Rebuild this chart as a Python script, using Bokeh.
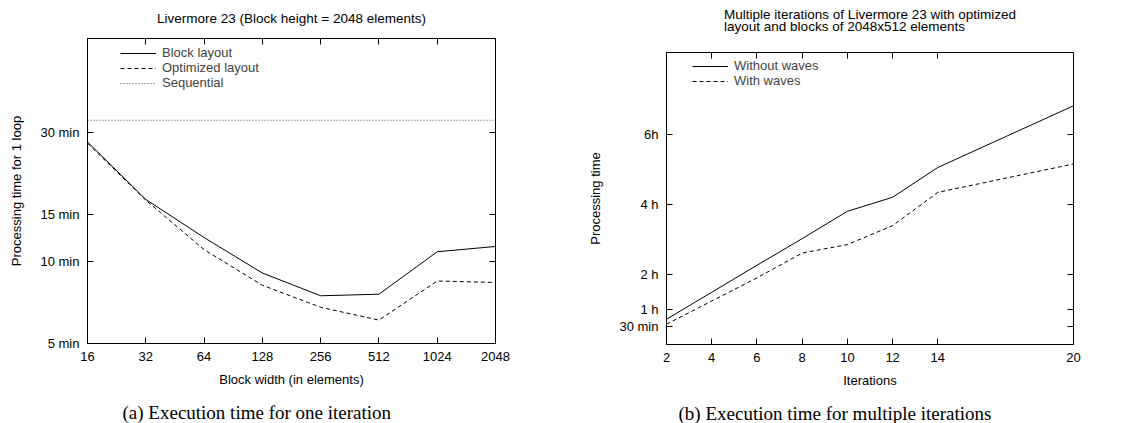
from jinja2 import Template
from bokeh.plotting import figure
from bokeh.models import (FixedTicker, LogAxis, LinearAxis, Title, Legend,
                          Range1d, CustomJSTickFormatter)
from bokeh.embed import file_html
from bokeh.resources import INLINE

# ---------------- data: panel (a) ----------------
block_widths = [16, 32, 64, 128, 256, 512, 1024, 2048]
block_layout_min = [27.7, 17.0, 12.3, 9.1, 7.5, 7.6, 10.9, 11.4]
optimized_layout_min = [27.4, 16.9, 11.1, 8.2, 6.8, 6.1, 8.5, 8.4]
sequential_min = 33.3
left_x_ticks = [16, 32, 64, 128, 256, 512, 1024, 2048]
left_x_labels = ["16", "32", "64", "128", "256", "512", "1024", "2048"]
left_y_ticks = [5, 10, 15, 30]
left_y_labels = ["5 min", "10 min", "15 min", "30 min"]

# ---------------- data: panel (b) ----------------
iterations = [2, 4, 6, 8, 10, 12, 14, 20]
without_waves_h = [0.72, 1.49, 2.26, 3.02, 3.80, 4.20, 5.05, 6.81]
with_waves_h = [0.58, 1.24, 1.90, 2.61, 2.85, 3.39, 4.34, 5.15]
right_x_ticks = [2, 4, 6, 8, 10, 12, 14, 20]
right_y_ticks = [0.5, 1, 2, 4, 6]
right_y_labels = ["30 min", "1 h", "2 h", "4 h", "6h"]

FONT = "Liberation Sans"
SERIF = "Liberation Serif"
FS = "13px"
TFS = "13.5px"


def style_axis(ax, ticks, labels=None, blank=False, label_standoff=5, spacer=0,
               pad_size=None):
    ax.ticker = FixedTicker(ticks=ticks, minor_ticks=[])
    ax.major_tick_in = 6
    ax.major_tick_out = 0
    ax.minor_tick_in = 0
    ax.minor_tick_out = 0
    ax.major_tick_line_color = "black"
    ax.axis_line_color = "black"
    ax.major_label_text_font = FONT
    ax.major_label_text_font_size = FS
    ax.major_label_text_color = "black"
    ax.major_label_standoff = 8
    ax.axis_label_text_font = FONT
    ax.axis_label_text_font_size = FS
    ax.axis_label_text_font_style = "normal"
    ax.axis_label_text_color = "black"
    ax.axis_label_standoff = label_standoff
    if labels is not None:
        ax.major_label_overrides = {float(t): l for t, l in zip(ticks, labels)}
    if blank:
        # mirrored axis: inward ticks only, no labels
        ax.formatter = CustomJSTickFormatter(code="return ''")
        ax.major_label_standoff = spacer
        ax.major_label_text_font_size = "1px"
        ax.axis_line_color = None
        if pad_size is not None:
            # an empty label that only reserves a little room in the border
            ax.axis_label = " "
            ax.axis_label_standoff = 0
            ax.axis_label_text_font_size = pad_size


def base_fig(**kw):
    p = figure(output_backend="svg", toolbar_location=None, **kw)
    p.grid.visible = False
    p.outline_line_color = "black"
    p.outline_line_width = 1
    p.background_fill_color = "white"
    p.border_fill_color = "white"
    return p


def add_title(p, text, loc, font, size, align="center", offset=0, line_height=None):
    t = Title(text=text, align=align, text_font=font, text_font_size=size,
              text_font_style="normal", text_color="black", offset=offset)
    if line_height is not None:
        t.text_line_height = line_height
    p.add_layout(t, loc)
    return t


def add_spacer_axis(p, ticks, loc, size, pad_size=None, log=False):
    ax = LogAxis() if log else LinearAxis()
    style_axis(ax, ticks, blank=True, spacer=size, pad_size=pad_size)
    ax.major_tick_line_color = None
    p.add_layout(ax, loc)
    return ax


# ---------------- panel (a) ----------------
p1 = base_fig(x_axis_type="log", y_axis_type="log",
              x_range=Range1d(16, 2048), y_range=Range1d(5, 66.7),
              frame_width=408, frame_height=305,
              min_border_left=87, min_border_right=70,
              min_border_top=38, min_border_bottom=80, name="panel_a")
p1.title = None
style_axis(p1.xaxis[0], left_x_ticks, left_x_labels, label_standoff=8)
style_axis(p1.yaxis[0], left_y_ticks, left_y_labels, label_standoff=13)
p1.xaxis[0].axis_label = "Block width (in elements)"
p1.yaxis[0].axis_label = "Processing time for 1 loop"
ax_top = LogAxis()
style_axis(ax_top, left_x_ticks, blank=True, spacer=7, pad_size="4.5px")
p1.add_layout(ax_top, "above")
ax_right = LogAxis()
style_axis(ax_right, left_y_ticks, blank=True)
p1.add_layout(ax_right, "right")
add_title(p1, "Livermore 23 (Block height = 2048 elements)", "above", FONT, TFS)

r1 = p1.line(block_widths, block_layout_min, line_color="black", line_width=1)
r2 = p1.line(block_widths, optimized_layout_min, line_color="black", line_width=1,
             line_dash="4 3")
r3 = p1.line(block_widths, [sequential_min] * len(block_widths), line_color="#555555",
             line_width=1, line_dash="1 2")
leg1 = Legend(items=[("Block layout", [r1]), ("Optimized layout", [r2]), ("Sequential", [r3])],
              location=(33, 253), border_line_color=None, background_fill_alpha=0,
              label_text_font=FONT, label_text_font_size=FS, glyph_width=36,
              glyph_height=14, label_height=14, spacing=0, padding=0, margin=0,
              label_standoff=6)
p1.add_layout(leg1)
add_spacer_axis(p1, left_x_ticks, "below", 2, pad_size="2px", log=True)
add_title(p1, "(a)  Execution time for one iteration", "below", SERIF, "19px",
          align="left", offset=35)

# ---------------- panel (b) ----------------
p2 = base_fig(x_range=Range1d(2, 20), y_range=Range1d(0, 8.33),
              frame_width=407, frame_height=292,
              min_border_left=101, min_border_right=60,
              min_border_top=52, min_border_bottom=79, name="panel_b")
p2.title = None
style_axis(p2.xaxis[0], right_x_ticks, label_standoff=8)
style_axis(p2.yaxis[0], right_y_ticks, right_y_labels, label_standoff=13)
p2.xaxis[0].axis_label = "Iterations"
p2.yaxis[0].axis_label = "Processing time"
ax_top2 = LinearAxis()
style_axis(ax_top2, right_x_ticks, blank=True, spacer=7, pad_size="9.5px")
p2.add_layout(ax_top2, "above")
ax_right2 = LinearAxis()
style_axis(ax_right2, right_y_ticks, blank=True)
p2.add_layout(ax_right2, "right")
add_title(p2, "Multiple iterations of Livermore 23 with optimized\nlayout and blocks of 2048x512 elements",
          "above", FONT, TFS, line_height=0.75)

s1 = p2.line(iterations, without_waves_h, line_color="black", line_width=1)
s2 = p2.line(iterations, with_waves_h, line_color="black", line_width=1, line_dash="4 3")
leg2 = Legend(items=[("Without waves", [s1]), ("With waves", [s2])],
              location=(26, 256), border_line_color=None, background_fill_alpha=0,
              label_text_font=FONT, label_text_font_size=FS, glyph_width=36,
              glyph_height=14, label_height=14, spacing=0, padding=0, margin=0,
              label_standoff=6)
p2.add_layout(leg2)
add_spacer_axis(p2, right_x_ticks, "below", 2, pad_size="2px")
add_title(p2, "(b)  Execution time for multiple iterations", "below", SERIF, "19px",
          align="left", offset=12)

# two independent roots side by side (no frame alignment between them)
TEMPLATE = Template("""{% from macros import embed %}
<!DOCTYPE html>
<html lang="en">
<head>
<meta charset="utf-8">
<title>Livermore 23</title>
{{ bokeh_css if bokeh_css }}
{{ bokeh_js if bokeh_js }}
<style>
html, body { margin: 0; padding: 0; overflow: hidden; }
.panels { display: flex; flex-direction: row; align-items: flex-start; }
</style>
</head>
<body>
<div class="panels">
{{ embed(roots.panel_a) }}
{{ embed(roots.panel_b) }}
</div>
{{ plot_script }}
</body>
</html>
""")

p = [p1, p2]
open("out.html", "w").write(file_html(p, INLINE, template=TEMPLATE))
